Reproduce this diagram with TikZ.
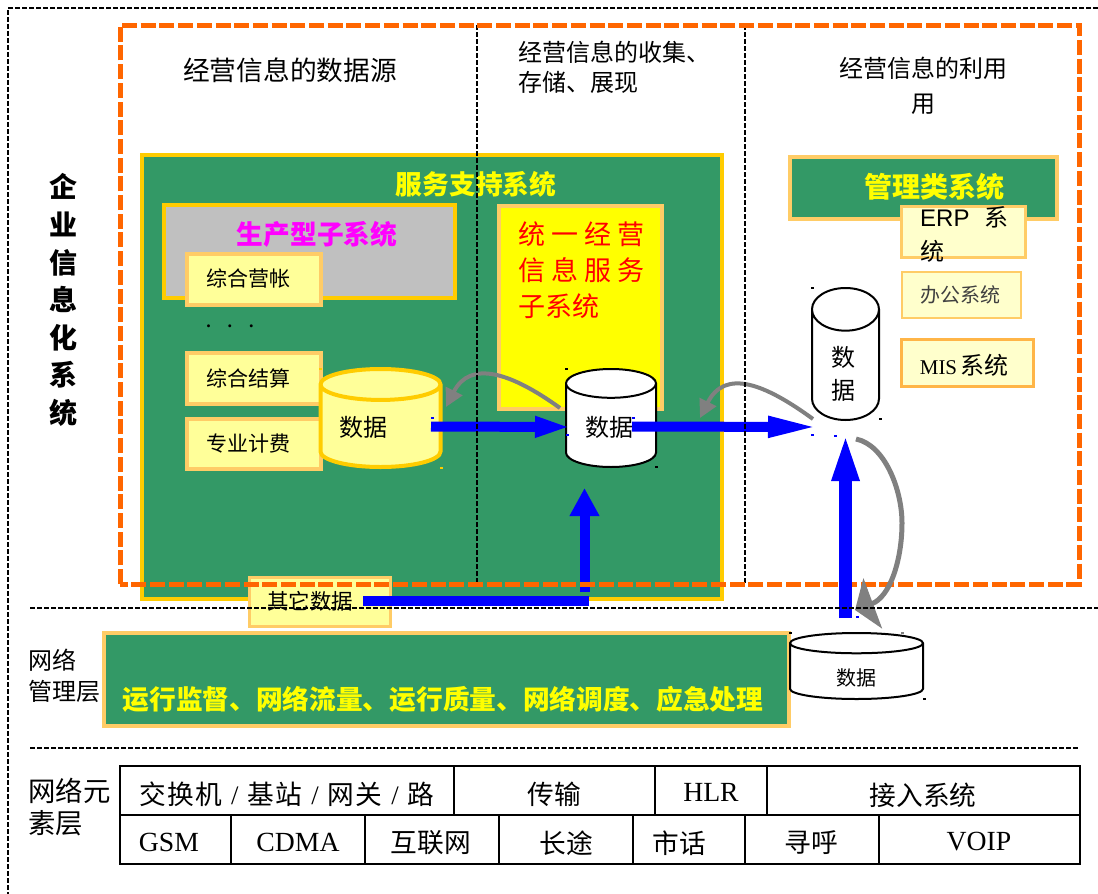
\documentclass[tikz,border=0pt]{standalone}
\usepackage{fontspec}
\setmainfont{Liberation Serif}
\setsansfont{Liberation Sans}
\newfontfamily\cjk{Noto Sans CJK SC}
\usetikzlibrary{arrows.meta}
\usetikzlibrary{shapes.geometric}
\definecolor{boxgreen}{HTML}{339966}
\definecolor{boxgold}{HTML}{FFCC00}
\definecolor{boxedge}{HTML}{FFCC66}
\definecolor{boxpale}{HTML}{FFFF99}
\definecolor{boxcream}{HTML}{FFFFCC}
\definecolor{boxgray}{HTML}{C0C0C0}
\definecolor{puryellow}{HTML}{FFFF00}
\definecolor{purmagenta}{HTML}{FF00FF}
\definecolor{dashorange}{HTML}{FF6600}
\definecolor{curvegray}{HTML}{808080}
\newcommand{\size}[1]{\fontsize{#1}{#1}\selectfont}
\tikzset{
	txt/.style={inner sep=0pt,font=\cjk\size{24}},
	title/.style={inner sep=0pt,font=\cjk\bfseries\size{26.7},text=puryellow},
	panel/.style={draw=boxgold,line width=4pt,fill=boxgreen,inner sep=0pt},
	subbox/.style={draw=boxedge,line width=4pt,fill=boxpale,inner sep=0pt},
	appbox/.style={draw=boxedge,line width=3pt,fill=boxcream,inner sep=0pt},
	drum/.style={shape=cylinder,shape border rotate=90,anchor=shape center,draw=black,line width=2pt,fill=white,inner sep=0pt,font=\size{24}},
	thindash/.style={black,line width=1.5pt,dash pattern=on 5pt off 2pt},
	orangedash/.style={dashorange,line width=5pt,dash pattern=on 15pt off 3.7pt},
	flow/.style={blue,line width=10pt},
	back/.style={curvegray,line width=4pt}
}

\begin{document}
\begin{tikzpicture}[x=1pt,y=-1pt]
	\useasboundingbox[fill=white] (0,0) rectangle (1098,894);
	\draw[thindash] (1098,8) -- (8,8) -- (8,894);
%-----The boxes-----
	\node[panel,minimum width=580pt,minimum height=444pt] (service) at (432,377) {};
	\node[title] (serviceTitle) at (476,184) {服务支持系统};
	\node[panel,fill=boxgray,minimum width=291pt,minimum height=93pt] (production) at (309.5,251.5) {};
	\node[title,text=purmagenta] (productionTitle) at (317,234) {生产型子系统};
	\node[subbox,minimum width=134pt,minimum height=51pt] (billing) at (254,279.5) {};
	\node[subbox,minimum width=134pt,minimum height=51pt] (settle) at (254,378.5) {};
	\node[subbox,minimum width=134pt,minimum height=50pt] (charge) at (254,444) {};
	\node[txt,font=\cjk\size{21}] at (248,279) (billingText) {综合营帐};
	\node[txt,font=\cjk\size{21}] at (248,378) (settleText) {综合结算};
	\node[txt,font=\cjk\size{21}] at (248,444) (chargeText) {专业计费};
	\node[inner sep=0pt,font=\bfseries\size{18}] (dots) at (230,326) {.\hspace{17pt}.\hspace{17pt}.};
	\node[draw=boxedge,line width=4pt,fill=puryellow,inner sep=0pt,minimum width=163pt,minimum height=203pt] (unified) at (580.5,307) {};
	\node[txt,anchor=north west,align=left,text=red,font=\cjk\size{27}] (unifiedText) at (518,222) {统 一 经 营\\[9pt]信 息 服 务\\[9pt]子系统};
	\node[panel,draw=boxedge,minimum width=267pt,minimum height=62pt] (manage) at (923.5,188) {};
	\node[title,font=\cjk\bfseries\size{28}] (manageTitle) at (934,187) {管理类系统};
	\node[appbox,minimum width=124pt,minimum height=51pt] (erp) at (963.5,232) {};
	\node[txt,anchor=north west,align=left,font=\sffamily\size{24}] (erpText) at (920,206) {ERP\hspace{15pt}{\cjk 系}\\[10pt]{\cjk 统}};
	\node[appbox,line width=2pt,minimum width=119pt,minimum height=46pt] (office) at (961,294.5) {};
	\node[txt,text=black!75,font=\cjk\size{20}] (officeText) at (960,295) {办公系统};
	\node[appbox,draw=boxedge!70!orange,minimum width=132pt,minimum height=47pt] (mis) at (967.5,363) {};
	\node[txt,font=\size{21}] (misText) at (964,365.5) {MIS\hspace{3pt}{\cjk\size{24}系统}};
	\node[panel,draw=boxedge,minimum width=685pt,minimum height=93pt] (network) at (446.5,679.5) {};
	\node[title] (networkTitle) at (443,699) {运行监督、网络流量、运行质量、网络调度、应急处理};
	\node[subbox,line width=3pt,minimum width=141pt,minimum height=49pt] (other) at (319.5,601.5) {};
	\node[txt,font=\cjk\size{21.5}] (otherText) at (310,601) {其它数据};
%-----The drums-----
	\node[drum,draw=boxgold,line width=4pt,fill=boxpale,minimum width=120pt,minimum height=98pt,aspect=1.45] (drumSource) at (380.5,418) {\phantom{M}};
	\node[txt] (drumSourceText) at (363,427) {数据};
	\node[drum,minimum width=90pt,minimum height=98pt,aspect=1.35] (drumUnified) at (611,418) {\phantom{M}};
	\node[txt] (drumUnifiedText) at (609,427) {数据};
	\node[drum,minimum width=67pt,minimum height=132pt,aspect=2] (drumManage) at (845.5,354) {\phantom{M}};
	\node[txt,align=center,font=\cjk\size{24}] (drumManageText) at (843,373.5) {数\\[9pt]据};
	\node[drum,minimum width=133pt,minimum height=66pt,aspect=0.95] (drumNetwork) at (856.5,666) {\phantom{M}};
	\node[txt,font=\cjk\size{20}] (drumNetworkText) at (856,678) {数据};
%-----The small handles-----
	\foreach \hx/\hy/\hc in {812/288/black,880/419/black,566/369/black,656/467/black,790/633/black,924/699/black,902/633/gray,320/369/boxgold,441/468/boxgold,432/418/blue,567/435/blue,633/418/blue,812/435/blue,835/436/blue,857/617/blue}
		{
			\fill[\hc] (\hx-1.5,\hy-1.2) rectangle (\hx+1.5,\hy+1.2);
		}
%-----Named ends of the arrows-----
	\coordinate (srcOut) at (431,426.5);
	\coordinate (uniIn) at (571,427);
	\coordinate (uniOut) at (632,426.5);
	\coordinate (manIn) at (820,427);
	\coordinate (netOut) at (845.5,618);
	\coordinate (manUp) at (845.5,431);
	\coordinate (otherOut) at (363,601);
	\coordinate (otherTurn) at (589,601);
	\coordinate (uniFoot) at (584.5,592);
	\coordinate (uniUp) at (584.5,488);
	\coordinate (backAFrom) at (560,408);
	\coordinate (backATo) at (446,407);
	\coordinate (backBFrom) at (813,419);
	\coordinate (backBTo) at (700,418);
	\coordinate (backCFrom) at (856,439);
	\coordinate (backCTo) at (855,610);
%-----Draw the arrows here-----
	\draw[flow,-{Triangle[length=36pt,width=19pt]}] (srcOut) -- (uniIn);
	\draw[flow,-{Triangle[length=52pt,width=19pt]}] (uniOut) -- (manIn);
	\draw[flow] (otherOut) -- (otherTurn);
	\draw[flow,-{Triangle[length=28pt,width=28pt]}] (uniFoot) -- (uniUp);
	\draw[back,-{Triangle[length=18pt,width=18pt]}] (backAFrom) .. controls (510,372) and (470,360) .. (backATo);
	\draw[back,-{Triangle[length=18pt,width=18pt]}] (backBFrom) .. controls (765,384) and (725,368) .. (backBTo);
%-----The dashed frames-----
	\draw[thindash,line width=2pt] (477,25) -- (477,584);
	\draw[thindash,line width=2pt] (745,25) -- (745,584);
	\draw[orangedash] (120,584) -- (120,25) -- (1079.5,25) -- (1079.5,584) -- cycle;
	\draw[flow,line width=13pt,-{Triangle[length=50pt,width=24pt]}] (netOut) -- (manUp);
	\draw[back,line width=5pt,-{Triangle[length=19pt,width=53pt]}] (backCFrom) .. controls (885,445) and (902,490) .. (902,523) .. controls (902,560) and (890,597) .. (backCTo);
	\draw[thindash] (30,608) -- (1098,608);
	\draw[thindash] (30,748) -- (1078,748);
%-----The network element table-----
	\draw[line width=2pt] (120,766) rectangle (1080,864);
	\draw[line width=2pt] (120,815) -- (1080,815);
	\foreach \cellx in {454,655,767}
		{
			\draw[line width=2pt] (\cellx,766) -- (\cellx,815);
		}
	\foreach \cellx in {231,365,499,633,745,879}
		{
			\draw[line width=2pt] (\cellx,815) -- (\cellx,864);
		}
	\foreach \tname/\tx/\ty/\ttext in {switch/287/794/{交\kern1.3pt 换\kern1.3pt 机\hspace{9pt}{\rmfamily /}\hspace{9pt}基\kern1.3pt 站\hspace{9pt}{\rmfamily /}\hspace{9pt}网\kern1.3pt 关\hspace{9pt}{\rmfamily /}\hspace{9pt}路},trans/554/794/传输,access/923/795/接入系统,net/431/843/互联网,longd/566/843/长途,city/679/843/市话,pager/811/843/寻呼}
		{
			\node[txt,font=\cjk\size{26.7}] (\tname) at (\tx,\ty) {\ttext};
		}
	\foreach \tname/\tx/\ty/\ttext in {hlr/711/792/HLR,gsm/169/842/GSM,cdma/298/842/CDMA,voip/979/842/VOIP}
		{
			\node[txt,font=\size{27.7}] (\tname) at (\tx,\ty) {\ttext};
		}
%-----The headings-----
	\node[txt,font=\cjk\size{26.7}] (headSource) at (290,70) {经营信息的数据源};
	\node[txt,anchor=north west,align=left] (headStore) at (518,41) {经营信息的收集、\\[6pt]存储、展现};
	\node[txt,align=center] (headUse) at (923,86) {经营信息的利用\\[11pt]用};
	\node[txt,align=center,font=\cjk\bfseries\size{28}] (headEnterprise) at (63,300) {企\\[9.6pt]业\\[9.6pt]信\\[9.6pt]息\\[9.6pt]化\\[9.6pt]系\\[9.6pt]统};
	\node[txt,anchor=north west,align=left] (headManage) at (28,649) {网络\\[7pt]管理层};
	\node[txt,anchor=north west,align=left,font=\cjk\size{27.4}] (headElement) at (28,778) {网络元\\[5pt]素层};
\end{tikzpicture}
\end{document}
